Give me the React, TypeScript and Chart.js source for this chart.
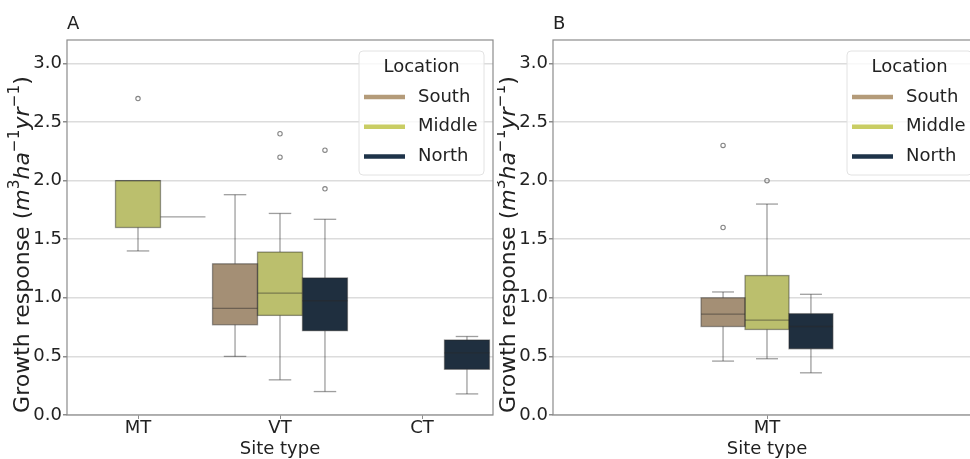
import React, { useEffect, useRef } from 'react';
import { Chart, registerables } from 'chart.js';

Chart.register(...registerables);

// ---------- data ----------
const LOCATIONS = ['South', 'Middle', 'North'];
const LEGEND_COLORS = ['#b49b79', '#c9cd64', '#1e3349'];
const BOX_COLORS = ['#a48f75', '#bbbf6d', '#1f2f3f'];

const SITES_A = ['MT', 'VT', 'CT'];
const SITES_B = ['MT'];
const Y_TICKS = [0, 0.5, 1.0, 1.5, 2.0, 2.5, 3.0];

// box stats per site: [lower whisker, q1, median, q3, upper whisker]
const A_SOUTH = [null, [0.50, 0.77, 0.91, 1.29, 1.88], null];
const A_MIDDLE = [[1.40, 1.60, 2.00, 2.00, 2.00], [0.30, 0.85, 1.04, 1.39, 1.72], null];
const A_NORTH = [[1.69, 1.69, 1.69, 1.69, 1.69], [0.20, 0.72, 0.975, 1.17, 1.67], [0.18, 0.39, 0.53, 0.64, 0.67]];
const A_SOUTH_OUT = [[], [], []];
const A_MIDDLE_OUT = [[2.70], [2.20, 2.40], []];
const A_NORTH_OUT = [[], [1.93, 2.26], []];

const B_SOUTH = [[0.46, 0.755, 0.86, 1.00, 1.05]];
const B_MIDDLE = [[0.48, 0.73, 0.81, 1.19, 1.80]];
const B_NORTH = [[0.36, 0.565, 0.755, 0.865, 1.03]];
const B_SOUTH_OUT = [[1.60, 2.30]];
const B_MIDDLE_OUT = [[2.00]];
const B_NORTH_OUT = [[]];

// ---------- styling ----------
const FONT = '"DejaVu Sans", sans-serif';
const TEXT = '#222222';
const LINE = 'rgba(40,40,40,0.45)';
const SPINE = '#8c8c8c';
const GRID = '#dcdcdc';

const boxPlugin = {
  id: 'boxExtras',
  afterLayout(chart: any, _args: any, opts: any) {
    // panel B's axes run past the right edge of the picture
    if (opts && opts.areaRight) {
      const xs = chart.scales.x;
      const r = opts.areaRight;
      xs.right = r;
      xs.width = r - xs.left;
      chart.chartArea.right = r;
      chart.chartArea.width = r - chart.chartArea.left;
      xs.configure();
    }
  },
  afterDatasetsDraw(chart: any) {
    const { ctx } = chart;
    const ys = chart.scales.y;
    chart.data.datasets.forEach((ds: any, di: number) => {
      const meta = chart.getDatasetMeta(di);
      ds.stats.forEach((s: number[] | null, i: number) => {
        if (!s) return;
        const el = meta.data[i];
        if (!el) return;
        const x = el.x;
        const w = el.width;
        const p = (v: number) => ys.getPixelForValue(v);
        ctx.save();
        ctx.strokeStyle = LINE;
        ctx.lineWidth = 1.3;
        const seg = (x1: number, y1: number, x2: number, y2: number) => {
          ctx.beginPath();
          ctx.moveTo(x1, y1);
          ctx.lineTo(x2, y2);
          ctx.stroke();
        };
        if (s[3] > s[1]) {
          ctx.strokeRect(x - w / 2, p(s[3]), w, p(s[1]) - p(s[3]));
        }
        if (s[4] > s[3]) {
          seg(x, p(s[3]), x, p(s[4]));
          seg(x - w / 4, p(s[4]), x + w / 4, p(s[4]));
        }
        if (s[0] < s[1]) {
          seg(x, p(s[1]), x, p(s[0]));
          seg(x - w / 4, p(s[0]), x + w / 4, p(s[0]));
        }
        seg(x - w / 2, p(s[2]), x + w / 2, p(s[2]));
        (ds.outliers[i] || []).forEach((o: number) => {
          ctx.beginPath();
          ctx.arc(x, p(o), 2.2, 0, Math.PI * 2);
          ctx.lineWidth = 1.1;
          ctx.strokeStyle = 'rgba(50,50,50,0.6)';
          ctx.stroke();
        });
        ctx.restore();
      });
    });
  },
  afterDraw(chart: any) {
    const { ctx, chartArea: a } = chart;
    ctx.save();
    ctx.strokeStyle = SPINE;
    ctx.lineWidth = 1.2;
    ctx.strokeRect(a.left, a.top, a.right - a.left, a.bottom - a.top);
    ctx.restore();

    // legend
    const w = 125, h = 124;
    const x0 = a.right - 9 - w;
    const y0 = a.top + 11;
    ctx.save();
    ctx.beginPath();
    ctx.roundRect(x0, y0, w, h, 4);
    ctx.fillStyle = 'rgba(255,255,255,0.8)';
    ctx.fill();
    ctx.strokeStyle = '#e2e2e2';
    ctx.lineWidth = 1;
    ctx.stroke();
    ctx.fillStyle = TEXT;
    ctx.font = `18px ${FONT}`;
    ctx.textAlign = 'center';
    ctx.textBaseline = 'middle';
    ctx.fillText('Location', x0 + w / 2, y0 + 16);
    ctx.textAlign = 'left';
    chart.data.datasets.forEach((ds: any, i: number) => {
      const cy = y0 + 46 + i * 29.7;
      ctx.strokeStyle = ds.legendColor;
      ctx.lineWidth = 4.5;
      ctx.beginPath();
      ctx.moveTo(x0 + 5, cy);
      ctx.lineTo(x0 + 46, cy);
      ctx.stroke();
      ctx.fillStyle = TEXT;
      ctx.fillText(ds.label, x0 + 59, cy);
    });
    ctx.restore();

    // y-axis title with math-style units
    const S = 22;
    const sS = S * 0.7;
    const parts = [
      { t: 'Growth response (', f: `${S}px ${FONT}`, dy: 0 },
      { t: 'm', f: `italic ${S}px ${FONT}`, dy: 0 },
      { t: '3', f: `${sS}px ${FONT}`, dy: -S * 0.45 },
      { t: 'ha', f: `italic ${S}px ${FONT}`, dy: 0 },
      { t: '\u22121', f: `${sS}px ${FONT}`, dy: -S * 0.45 },
      { t: 'yr', f: `italic ${S}px ${FONT}`, dy: 0 },
      { t: '\u22121', f: `${sS}px ${FONT}`, dy: -S * 0.45 },
      { t: ')', f: `${S}px ${FONT}`, dy: 0 },
    ];
    ctx.save();
    ctx.fillStyle = TEXT;
    ctx.textBaseline = 'alphabetic';
    ctx.textAlign = 'left';
    let total = 0;
    const widths = parts.map((pt) => {
      ctx.font = pt.f;
      const m = ctx.measureText(pt.t).width;
      total += m;
      return m;
    });
    const cyMid = (a.top + a.bottom) / 2 + 17;
    ctx.translate(a.left - 38, cyMid);
    ctx.rotate(-Math.PI / 2);
    let xx = -total / 2;
    parts.forEach((pt, i) => {
      ctx.font = pt.f;
      ctx.fillText(pt.t, xx, pt.dy);
      xx += widths[i];
    });
    ctx.restore();
  },
};

function makeConfig(
  sites: string[],
  stats: (number[] | null)[][],
  outliers: number[][][],
  title: string,
  catPct: number,
  padRight: number,
  yAxisWidth: number,
  areaRight: number
): any {
  return {
    type: 'bar',
    data: {
      labels: sites,
      datasets: LOCATIONS.map((loc, i) => ({
        label: loc,
        data: stats[i].map((s) => (s ? [s[1], s[3]] : null)),
        stats: stats[i],
        outliers: outliers[i],
        legendColor: LEGEND_COLORS[i],
        backgroundColor: BOX_COLORS[i],
        borderWidth: 0,
        categoryPercentage: catPct,
        barPercentage: 1,
      })),
    },
    options: {
      responsive: false,
      animation: false,
      events: [],
      layout: { padding: { left: 0, right: padRight, top: 0, bottom: 0 } },
      plugins: {
        legend: { display: false },
        tooltip: { enabled: false },
        boxExtras: { areaRight },
        title: {
          display: true,
          text: title,
          align: 'start',
          fullSize: false,
          color: TEXT,
          font: { family: FONT, size: 18, lineHeight: 1, weight: 'normal' },
          padding: { top: 15, bottom: 7 },
        },
      },
      scales: {
        x: {
          type: 'category',
          offset: true,
          grid: {
            display: true,
            drawOnChartArea: false,
            drawTicks: true,
            offset: false,
            tickLength: 4,
            color: SPINE,
            tickColor: SPINE,
          },
          border: { display: false },
          ticks: {
            color: TEXT,
            font: { family: FONT, size: 18, lineHeight: 1 },
            padding: 0,
            maxRotation: 0,
          },
          title: {
            display: true,
            text: 'Site type',
            color: TEXT,
            font: { family: FONT, size: 18, lineHeight: 1 },
            padding: { top: 0, bottom: 1 },
          },
          afterFit: (s: any) => {
            s.height = 44;
          },
        },
        y: {
          type: 'linear',
          min: 0,
          max: 3.2,
          grid: {
            color: GRID,
            lineWidth: 1.5,
            tickLength: 4,
            tickColor: SPINE,
          },
          border: { display: false },
          afterBuildTicks: (s: any) => {
            s.ticks = Y_TICKS.map((v) => ({ value: v }));
          },
          ticks: {
            color: TEXT,
            font: { family: FONT, size: 18 },
            padding: 1,
            callback: (v: any) => Number(v).toFixed(1),
          },
          afterFit: (s: any) => {
            s.width = yAxisWidth;
          },
        },
      },
    },
    plugins: [boxPlugin],
  };
}

export default function App() {
  const refA = useRef<HTMLCanvasElement>(null);
  const refB = useRef<HTMLCanvasElement>(null);

  useEffect(() => {
    const a = new Chart(
      refA.current as HTMLCanvasElement,
      makeConfig(
        SITES_A,
        [A_SOUTH, A_MIDDLE, A_NORTH],
        [A_SOUTH_OUT, A_MIDDLE_OUT, A_NORTH_OUT],
        'A',
        0.95,
        4,
        67,
        0
      )
    );
    const b = new Chart(
      refB.current as HTMLCanvasElement,
      makeConfig(
        SITES_B,
        [B_SOUTH, B_MIDDLE, B_NORTH],
        [B_SOUTH_OUT, B_MIDDLE_OUT, B_NORTH_OUT],
        'B',
        0.308,
        0,
        56,
        484
      )
    );
    return () => {
      a.destroy();
      b.destroy();
    };
  }, []);

  return (
    <div
      style={{
        position: 'absolute',
        left: 0,
        top: 0,
        width: 970,
        height: 459,
        overflow: 'hidden',
        background: '#fff',
      }}
    >
      <canvas ref={refA} width={497} height={459} style={{ position: 'absolute', left: 0, top: 0 }} />
      <canvas ref={refB} width={473} height={459} style={{ position: 'absolute', left: 497, top: 0 }} />
    </div>
  );
}
